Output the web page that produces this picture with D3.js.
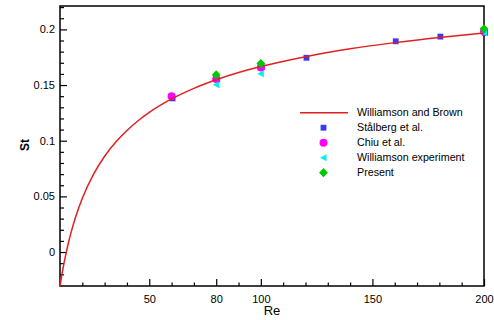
<!DOCTYPE html>
<html><head><meta charset="utf-8">
<script src="https://cdn.jsdelivr.net/npm/d3@7"></script>
<style>body{margin:0;background:#fff}svg{display:block}text{font-family:"Liberation Sans",Arial,sans-serif}</style>
</head><body>
<svg id="c" width="494" height="320"></svg>
<script>
// Williamson and Brown curve
const curveRe = [10, 11, 12, 13, 14, 15, 17, 20, 25, 30, 35, 40, 45, 50, 60, 70, 80, 90, 100, 120, 140, 160, 180, 200];
const curveSt = [-0.0306, -0.0186, -0.0080, 0.0015, 0.0101, 0.0179, 0.0315, 0.0484, 0.0698, 0.0860, 0.0988, 0.1092, 0.1179, 0.1254, 0.1375, 0.1470, 0.1547, 0.1612, 0.1666, 0.1755, 0.1825, 0.1881, 0.1928, 0.1968];
const stalbergRe = [60, 80, 100, 120, 160, 180, 200];
const stalbergSt = [0.138, 0.155, 0.166, 0.1745, 0.1893, 0.1935, 0.197];
const chiuRe = [60, 80, 100, 200];
const chiuSt = [0.140, 0.1555, 0.1657, 0.198];
const wexpRe = [80, 100, 200];
const wexpSt = [0.1503, 0.1602, 0.197];
const presentRe = [80, 100, 200];
const presentSt = [0.1592, 0.1693, 0.2005];
const xMajor = [50, 80, 100, 150, 200];
const xMinor = [20, 30, 40, 60, 70, 90, 110, 120, 130, 140, 160, 170, 180, 190];
const yMajor = [0, 0.05, 0.1, 0.15, 0.2];
const yMinor = [-0.02, -0.01, 0.01, 0.02, 0.03, 0.04, 0.06, 0.07, 0.08, 0.09, 0.11, 0.12, 0.13, 0.14, 0.16, 0.17, 0.18, 0.19, 0.21, 0.22];
const legendLabels = ["Williamson and Brown", "Stålberg et al.", "Chiu et al.", "Williamson experiment", "Present"];

const svg = d3.select("#c");
const L = 60, R = 484, T = 6, B = 286;
const x = d3.scaleLinear().domain([10, 200]).range([L, R]);
const y = d3.scaleLinear().domain([-0.0305, 0.221]).range([B, T]);

// ticks
const gx = svg.append("g").attr("transform", `translate(0,${B})`);
gx.call(d3.axisTop(x).tickValues(xMinor).tickSize(3.5).tickFormat(""));
gx.select(".domain").remove();
const gx2 = svg.append("g").attr("transform", `translate(0,${B})`);
gx2.call(d3.axisTop(x).tickValues(xMajor).tickSize(7).tickFormat(""));
gx2.select(".domain").remove();
const gxl = svg.append("g").attr("transform", `translate(0,${B})`);
gxl.call(d3.axisBottom(x).tickValues(xMajor).tickSize(0).tickPadding(9).tickFormat(d3.format("d")));
gxl.select(".domain").remove();
gxl.selectAll("text").attr("font-size", 11).attr("fill", "#000").style("font-family", "Liberation Sans, Arial, sans-serif");

const gy = svg.append("g").attr("transform", `translate(${L},0)`);
gy.call(d3.axisRight(y).tickValues(yMinor).tickSize(4).tickFormat(""));
gy.select(".domain").remove();
const gy2 = svg.append("g").attr("transform", `translate(${L},0)`);
gy2.call(d3.axisRight(y).tickValues(yMajor).tickSize(7).tickFormat(""));
gy2.select(".domain").remove();
const gyl = svg.append("g").attr("transform", `translate(${L},0)`);
gyl.call(d3.axisLeft(y).tickValues(yMajor).tickSize(0).tickPadding(5).tickFormat(d => d3.format("")(+d.toFixed(2))));
gyl.select(".domain").remove();
gyl.selectAll("text").attr("font-size", 11).attr("fill", "#000").style("font-family", "Liberation Sans, Arial, sans-serif");
svg.selectAll(".tick line").attr("stroke", "#000").attr("stroke-width", 1.2);

// frame
svg.append("rect").attr("x", L).attr("y", T).attr("width", R - L).attr("height", B - T)
  .attr("fill", "none").attr("stroke", "#000").attr("stroke-width", 1.5);

// axis titles
svg.append("text").attr("x", 272).attr("y", 310).attr("text-anchor", "middle").attr("font-size", 13).attr("dy", "0.35em").text("Re");
svg.append("text").attr("transform", "translate(25,145) rotate(-90)").attr("text-anchor", "middle").attr("dy", "0.35em").attr("font-size", 12).attr("font-weight", "bold").text("St");

const plot = svg.append("g");
const sq = d3.symbol().type(d3.symbolSquare).size(34);
const circ = d3.symbol().type(d3.symbolCircle).size(50);
const dia = ([cx, cy]) => `M${cx},${cy - 4.6}L${cx + 4.4},${cy}L${cx},${cy + 4.6}L${cx - 4.4},${cy}Z`;
const tri = ([cx, cy]) => `M${cx - 3.5},${cy}L${cx + 3},${cy - 3.5}L${cx + 3},${cy + 3.5}Z`;

const colors = {st: "#3a3af5", chiu: "#ff00ff", wexp: "#00f0f0", pres: "#00c800", line: "#e02020"};

plot.selectAll(".s").data(stalbergRe).join("path").attr("d", sq)
  .attr("transform", (d, i) => `translate(${x(d) + 1},${y(stalbergSt[i])})`).attr("fill", colors.st);
plot.selectAll(".c").data(chiuRe).join("path").attr("d", circ)
  .attr("transform", (d, i) => `translate(${x(d)},${y(chiuSt[i])})`).attr("fill", colors.chiu);
plot.selectAll(".w").data(wexpRe).join("path")
  .attr("d", (d, i) => tri([x(d), y(wexpSt[i])])).attr("fill", colors.wexp);

const line = d3.line().x(d => x(d[0])).y(d => y(d[1])).curve(d3.curveMonotoneX);
plot.append("path").datum(curveRe.map((r, i) => [r, curveSt[i]])).attr("d", line)
  .attr("fill", "none").attr("stroke", colors.line).attr("stroke-width", 1.5);

plot.selectAll(".p").data(presentRe).join("path")
  .attr("d", (d, i) => dia([x(d), y(presentSt[i])])).attr("fill", colors.pres);

// legend
const lg = svg.append("g");
const ly0 = 112.7, dy = 15, mx = 323.5, tx = 357;
lg.append("line").attr("x1", 300).attr("x2", 348).attr("y1", ly0).attr("y2", ly0).attr("stroke", colors.line).attr("stroke-width", 1.5);
lg.append("path").attr("d", sq).attr("transform", `translate(${mx},${ly0 + dy})`).attr("fill", colors.st);
lg.append("path").attr("d", circ).attr("transform", `translate(${mx},${ly0 + 2 * dy})`).attr("fill", colors.chiu);
lg.append("path").attr("d", tri([mx, ly0 + 3 * dy])).attr("fill", colors.wexp);
lg.append("path").attr("d", dia([mx, ly0 + 4 * dy])).attr("fill", colors.pres);
lg.selectAll("text").data(legendLabels).join("text")
  .attr("x", tx).attr("y", (d, i) => ly0 + i * dy).attr("dy", "0.35em").attr("font-size", 10.7).text(d => d);
</script>
</body></html>
